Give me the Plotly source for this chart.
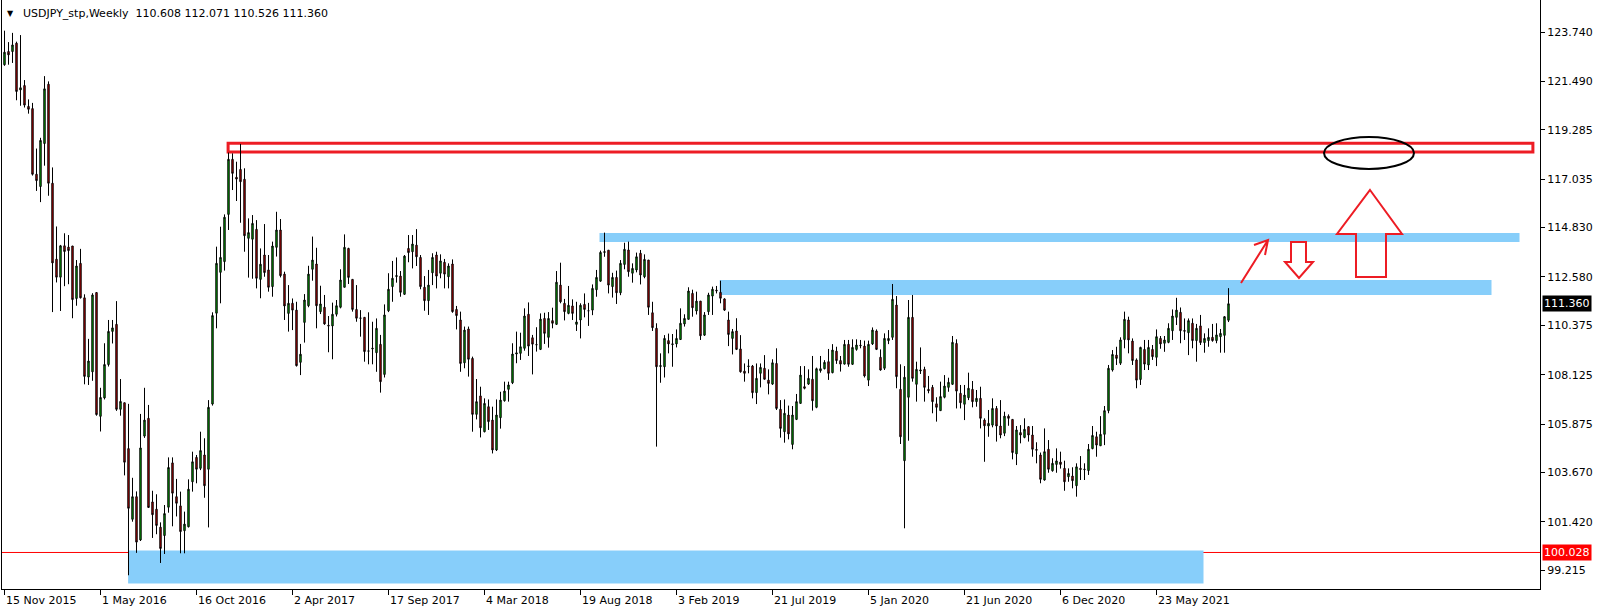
import pandas as pd
import plotly.graph_objects as go

symbol_title = "USDJPY_stp,Weekly"
header_values = ["110.608", "112.071", "110.526", "111.360"]
first_week = "2015-11-15"

opens = [122.25,122.85,122.85,123.23,121.10,121.30,120.35,120.25,117.26,116.70,
118.66,121.36,116.85,113.39,112.57,114.00,113.94,113.99,111.60,113.20,
111.63,108.02,108.26,111.87,106.23,107.07,108.59,110.10,110.42,106.55,
106.85,104.76,101.54,102.57,100.60,105.33,106.14,102.33,102.00,101.18,
100.80,102.09,104.11,102.57,102.15,101.02,101.20,103.25,104.36,103.86,
104.47,103.82,106.79,110.93,112.79,113.28,115.43,117.94,117.12,117.48,
117.03,114.34,114.30,114.75,112.47,113.58,112.90,112.14,113.93,114.72,
112.71,110.92,111.38,111.07,108.69,110.51,111.27,112.93,113.17,111.00,
111.20,110.38,110.35,110.88,111.20,112.11,113.88,112.47,111.10,110.70,
110.74,109.20,109.30,109.13,109.51,108.14,111.04,112.14,112.60,112.62,
111.79,113.88,113.73,114.03,113.47,112.11,111.50,112.77,113.58,112.75,
113.25,112.59,113.17,111.10,110.62,108.67,110.21,108.87,106.32,107.16,
105.53,106.67,106.06,104.70,106.17,106.94,107.46,107.76,109.07,109.10,
109.33,110.88,109.81,109.50,109.28,110.69,109.83,110.59,110.42,112.21,
111.38,110.92,111.26,110.42,110.62,111.33,111.04,111.07,112.00,112.39,
113.70,113.80,112.14,112.56,111.86,113.15,113.81,112.75,112.90,113.66,
112.59,113.35,110.95,110.24,108.50,108.49,109.68,109.50,109.53,109.73,
110.44,110.65,111.83,111.03,111.48,109.93,111.00,111.71,111.98,111.88,
111.58,110.62,109.78,110.12,109.30,108.29,108.50,108.52,107.31,108.19,
108.42,107.88,107.70,108.64,106.55,105.53,106.29,104.95,106.09,106.82,
107.58,107.70,107.92,106.64,108.31,108.40,108.72,108.22,109.20,108.77,
108.61,109.51,108.60,109.28,109.47,109.43,107.88,109.53,110.12,108.92,
108.42,109.68,109.83,111.30,107.46,104.21,107.10,110.74,107.69,108.30,
108.37,107.46,107.55,106.80,106.49,107.10,107.55,107.69,109.55,107.28,
106.78,107.08,107.46,106.90,107.05,106.06,105.79,105.83,106.59,105.79,
105.46,106.24,106.09,104.52,105.49,105.27,105.76,105.38,104.72,104.47,
103.33,104.73,103.75,104.04,104.15,103.86,103.48,103.51,103.07,103.86,
103.80,103.76,104.76,105.30,104.89,105.41,106.49,108.34,109.02,108.65,
109.73,110.62,109.66,108.80,107.91,109.28,108.57,109.28,108.92,109.78,
109.56,109.60,110.13,110.74,110.97,110.14,110.04,110.47,109.68,110.35,
109.59,109.68,109.83,109.68,109.86,109.92,110.608]

highs = [123.80,123.28,123.70,123.30,123.60,121.55,120.67,120.51,118.43,118.92,
121.73,121.49,117.57,114.88,114.04,114.57,114.49,113.99,113.35,113.86,
111.79,109.76,111.84,111.87,107.53,109.56,110.62,110.62,111.48,107.93,
106.85,106.80,103.43,102.81,106.34,107.53,106.75,102.84,102.68,101.40,
102.19,104.36,104.36,103.38,102.80,101.89,103.36,104.62,104.47,105.53,
105.23,106.97,110.97,113.96,114.87,115.43,118.25,118.21,117.83,118.64,
117.53,115.25,115.40,115.17,113.88,114.99,113.58,114.19,115.55,115.22,
112.82,112.21,111.60,111.45,109.53,111.80,113.09,114.42,113.91,112.18,
111.76,110.80,111.41,111.53,112.93,114.52,113.91,112.47,112.21,111.07,
110.74,110.97,110.54,110.69,109.94,111.33,112.75,113.31,113.47,112.85,
113.58,114.49,114.49,114.76,113.58,112.62,112.90,113.66,113.73,113.61,
113.40,113.20,113.38,111.26,111.00,110.32,110.32,108.95,107.93,107.58,
107.05,107.00,106.67,107.00,107.35,107.81,107.81,109.56,110.09,110.04,
111.15,111.42,109.94,110.29,110.92,110.95,110.98,111.18,112.85,113.23,
111.58,112.17,111.56,111.45,111.38,111.83,111.40,112.24,112.90,113.78,
114.60,113.80,112.77,112.87,113.35,114.14,114.19,113.20,113.69,113.81,
113.61,113.35,111.45,110.47,109.10,109.93,110.00,109.98,110.19,111.15,
110.88,112.11,112.00,111.91,111.48,110.98,111.86,112.14,112.17,112.41,
111.61,111.00,110.21,110.70,109.93,108.64,108.83,108.57,108.64,108.64,
109.02,108.37,108.83,109.33,106.97,107.00,106.72,106.70,107.25,108.52,
108.52,108.37,108.98,108.45,108.98,108.79,109.30,109.52,109.40,108.98,
109.71,109.71,109.74,109.74,109.71,109.68,109.68,110.28,110.19,109.28,
110.01,110.16,112.26,111.71,108.60,108.52,111.53,111.76,108.72,109.37,
108.49,108.07,107.66,107.10,107.81,108.11,107.99,109.89,109.74,107.66,
107.66,108.22,107.84,107.43,107.58,106.14,106.52,107.05,106.70,106.97,
106.44,106.32,106.09,105.79,105.83,106.14,105.79,105.79,105.05,104.58,
105.68,105.15,104.32,104.77,104.62,104.21,103.86,103.91,104.09,104.42,
104.09,104.97,105.79,105.53,106.24,106.70,108.57,109.25,109.40,109.83,
111.00,110.77,109.78,108.87,109.40,109.71,109.71,109.48,110.19,109.89,
109.89,110.47,111.10,111.63,111.19,110.69,110.69,110.69,110.44,110.85,
110.01,110.24,110.44,110.47,110.21,110.80,112.071]

lows = [122.20,122.25,122.33,120.63,120.38,120.30,120.02,117.20,116.50,115.99,
117.65,116.28,110.98,112.33,111.03,112.16,112.25,110.70,111.27,111.60,
107.69,107.66,107.85,106.26,105.54,107.00,108.50,109.55,106.48,106.26,
103.54,98.99,101.43,100.01,100.55,105.25,102.06,100.69,100.86,99.55,
99.96,101.84,101.22,101.67,99.99,99.99,101.17,102.80,103.18,103.78,
102.52,101.17,106.72,110.24,111.38,112.87,114.72,116.54,116.04,115.05,
113.73,112.55,112.50,112.06,111.61,112.59,111.91,111.68,113.51,112.56,
110.62,110.09,110.16,108.50,108.11,109.59,111.20,112.41,110.24,110.89,
110.40,109.15,108.83,110.78,111.15,112.11,112.26,111.00,110.54,109.86,
108.72,108.60,108.60,108.26,107.31,108.00,110.98,111.45,112.32,111.68,
111.76,113.25,112.97,113.08,112.02,111.04,110.85,112.21,112.06,112.52,
112.06,112.06,110.95,110.19,108.26,108.42,108.04,105.53,106.09,105.27,
105.50,105.61,104.54,104.65,105.67,106.90,106.90,107.70,108.65,108.80,
109.22,108.98,108.14,109.18,109.25,109.53,109.36,110.24,110.39,111.38,
110.60,110.88,110.62,110.12,109.78,110.74,110.35,110.84,111.68,112.36,
113.50,111.83,111.64,111.35,111.75,112.93,112.59,112.32,112.79,112.24,
112.52,110.85,110.12,104.85,107.76,108.00,109.10,108.49,109.37,109.71,
110.32,110.65,110.77,110.87,109.71,109.89,110.85,110.85,111.83,111.38,
111.03,109.43,109.05,109.25,108.22,107.81,108.19,107.05,106.79,107.55,
107.91,107.23,107.66,106.52,105.26,105.03,105.18,104.73,106.06,106.82,
107.46,107.66,106.49,106.60,108.22,108.37,107.89,108.19,108.62,108.27,
108.59,108.49,108.57,109.22,109.33,108.00,107.61,109.48,109.25,108.31,
108.34,109.52,109.71,107.51,104.97,101.13,105.12,107.81,106.90,108.16,
106.90,107.28,106.37,105.99,106.49,107.05,107.35,107.66,106.59,106.59,
106.06,106.97,106.64,106.67,105.68,104.16,105.30,105.73,105.08,105.23,
105.33,105.80,104.27,104.01,105.00,105.23,105.08,104.39,104.09,103.18,
103.30,103.66,103.71,103.66,103.85,102.84,103.25,102.95,102.57,103.33,
103.33,103.56,104.73,104.39,104.88,104.92,106.37,108.27,108.57,108.57,
109.33,109.10,108.57,107.51,107.66,108.34,108.34,108.80,108.52,109.31,
109.17,109.56,109.71,110.39,109.56,109.71,109.02,109.33,108.72,109.48,
109.13,109.40,109.63,109.56,109.13,109.13,110.526]

closes = [122.82,122.70,123.15,121.03,121.20,120.41,120.22,117.26,116.97,118.80,
121.15,116.85,113.22,112.57,114.00,113.74,113.78,111.55,113.08,111.63,
108.05,108.75,111.76,106.31,107.09,108.59,110.10,110.26,106.55,106.91,
104.14,102.04,102.57,100.50,104.79,106.06,102.08,101.75,101.26,100.21,
101.80,103.90,102.73,102.27,100.98,101.32,102.91,104.16,103.82,104.67,
103.07,106.64,110.82,113.20,113.47,115.30,117.94,117.30,117.04,116.92,
114.46,114.60,115.02,112.52,113.16,112.78,112.11,113.99,114.72,112.64,
111.26,111.38,111.07,108.54,109.06,111.53,112.71,113.35,111.27,111.35,
110.44,110.35,110.88,111.27,112.44,113.93,112.56,111.10,110.70,110.71,
109.18,109.21,109.33,110.24,107.81,110.85,112.02,112.52,112.64,111.88,
113.53,113.69,114.08,113.50,112.14,111.50,112.21,113.47,112.62,113.31,
112.71,113.08,111.00,110.82,108.64,110.16,108.83,106.32,106.90,105.71,
106.82,105.99,104.70,106.29,106.97,107.38,107.66,109.07,109.12,109.40,
110.80,109.43,109.52,109.49,110.66,110.01,110.69,110.47,112.34,111.45,
111.00,111.29,110.92,110.53,111.29,111.10,111.04,112.06,112.56,113.70,
113.73,112.21,112.56,111.86,113.20,113.84,112.82,112.97,113.50,112.67,
113.38,111.20,110.27,108.49,108.54,109.78,109.53,109.53,109.78,110.47,
110.69,111.94,111.18,111.48,109.90,110.85,111.76,112.02,111.95,111.61,
111.07,109.96,110.09,109.28,108.26,108.19,108.52,107.31,107.96,108.46,
107.92,107.73,108.67,106.59,105.68,106.37,105.43,106.29,106.90,108.11,
107.51,107.96,106.94,108.40,108.40,108.69,108.19,109.25,108.77,108.61,
109.51,108.60,109.37,109.48,109.45,108.07,109.51,110.16,109.28,108.34,
109.78,109.78,111.56,108.04,105.30,108.01,110.74,107.96,108.37,108.34,
107.55,107.40,106.90,106.64,107.13,107.61,107.78,109.60,107.38,106.85,
107.20,107.51,106.90,107.05,106.14,105.80,105.91,106.59,105.79,105.38,
106.24,106.14,104.58,105.61,105.38,105.64,105.38,104.73,104.69,103.36,
104.62,103.82,104.09,104.20,104.04,103.25,103.63,103.30,103.93,103.81,
103.82,104.73,105.36,104.92,105.41,106.49,108.42,109.05,108.87,109.71,
110.65,109.71,108.77,107.88,109.37,108.61,109.37,108.95,109.86,109.53,
109.71,110.24,110.80,111.07,110.13,110.11,110.59,109.68,110.24,109.59,
109.78,109.83,109.68,109.94,110.01,110.77,111.36]

price_ticks = [123.740, 121.490, 119.285, 117.035, 114.830, 112.580,
               110.375, 108.125, 105.875, 103.670, 101.420, 99.215]
date_tick_labels = ["15 Nov 2015", "1 May 2016", "16 Oct 2016", "2 Apr 2017",
                    "17 Sep 2017", "4 Mar 2018", "19 Aug 2018", "3 Feb 2019",
                    "21 Jul 2019", "5 Jan 2020", "21 Jun 2020", "6 Dec 2020",
                    "23 May 2021"]
date_tick_step = 24
support_level = 100.028
current_price = 111.360
resistance_box = (118.27, 118.67)
zone_upper = (114.17, 114.58)
zone_mid = (111.76, 112.44)
zone_low = (98.62, 100.12)

weeks = pd.date_range(first_week, periods=len(closes), freq="7D").strftime("%Y-%m-%d").tolist()

# ---- geometry (pixels of the 1604x613 page) ----
W, H = 1604, 613
PL, PR, PT, PB = 2, 1540, 0, 589
FONT = "DejaVu Sans"
RED = "#ed1c24"
BLUE = "#87cefa"
X0 = -0.625                     # half-pixel offset so candle strokes are crisp
X1 = X0 + (PR - PL) / 4.0


def y_at(py):
    return 123.74 - (py - 32) / 21.95


def xp(px):
    return (px - PL) / (PR - PL)


def yp(py):
    return 1 - (py - PT) / (PB - PT)


def path(points, close=True):
    s = "M " + " L ".join(f"{xp(x):.5f},{yp(y):.5f}" for x, y in points)
    return s + (" Z" if close else "")


fig = go.Figure()
fig.add_trace(go.Candlestick(
    x=weeks, open=opens, high=highs, low=lows, close=closes,
    increasing=dict(line=dict(color="black", width=1), fillcolor="#00c800"),
    decreasing=dict(line=dict(color="black", width=1), fillcolor="#e00000"),
    whiskerwidth=0, hoverinfo="x+y", name=symbol_title,
))

shapes = []
shapes.append(dict(type="rect", xref="x", yref="y", x0=30.9, x1=299.75,
                   y0=zone_low[0], y1=zone_low[1], fillcolor=BLUE,
                   line=dict(width=0), layer="below"))
shapes.append(dict(type="line", xref="paper", yref="y", x0=0, x1=1,
                   y0=support_level, y1=support_level,
                   line=dict(color="#ff0000", width=1), layer="below"))
shapes.append(dict(type="rect", xref="x", yref="y", x0=148.75, x1=378.75,
                   y0=zone_upper[0], y1=zone_upper[1], fillcolor=BLUE,
                   line=dict(width=0), layer="below"))
shapes.append(dict(type="rect", xref="x", yref="y", x0=178.8, x1=371.75,
                   y0=zone_mid[0], y1=zone_mid[1], fillcolor=BLUE,
                   line=dict(width=0), layer="below"))
shapes.append(dict(type="rect", xref="x", yref="y", x0=55.9, x1=382.1,
                   y0=resistance_box[0], y1=resistance_box[1],
                   fillcolor="rgba(0,0,0,0)", line=dict(color=RED, width=3),
                   layer="below"))
# ellipse
shapes.append(dict(type="circle", xref="paper", yref="paper",
                   x0=xp(1324), x1=xp(1414), y0=yp(169), y1=yp(137),
                   line=dict(color="black", width=2)))
# big hollow up arrow
shapes.append(dict(type="path", xref="paper", yref="paper",
                   path=path([(1370, 190), (1402, 234), (1386, 234), (1386, 277),
                              (1356, 277), (1356, 234), (1337, 234)]),
                   line=dict(color=RED, width=2)))
# small hollow down arrow
shapes.append(dict(type="path", xref="paper", yref="paper",
                   path=path([(1291, 242), (1306, 242), (1306, 262), (1313, 262),
                              (1299, 278), (1285, 262), (1291, 262)]),
                   line=dict(color=RED, width=2)))
# thin line arrow
shapes.append(dict(type="path", xref="paper", yref="paper",
                   path=path([(1241, 283), (1268, 240)], close=False)
                   + " " + path([(1254, 245), (1268, 240), (1265, 255)], close=False),
                   line=dict(color=RED, width=2)))

annotations = []
for k, lab in enumerate(date_tick_labels):
    annotations.append(dict(x=k * date_tick_step, xref="x", y=0, yref="paper",
                            text=lab, showarrow=False, xanchor="left",
                            yanchor="top", yshift=-3, xshift=-1,
                            font=dict(family=FONT, size=11, color="black")))
annotations.append(dict(x=1, xref="paper", y=current_price, yref="y",
                        text=f"{current_price:.3f}", showarrow=False,
                        xanchor="left", yanchor="middle", xshift=2,
                        bgcolor="black", borderpad=1,
                        font=dict(family=FONT, size=11, color="white")))
annotations.append(dict(x=1, xref="paper", y=support_level, yref="y",
                        text=f"{support_level:.3f}", showarrow=False,
                        xanchor="left", yanchor="middle", xshift=2,
                        bgcolor="#ff0000", borderpad=1,
                        font=dict(family=FONT, size=11, color="white")))
annotations.append(dict(x=0, xref="paper", y=1, yref="paper", text="\u25bc",
                        showarrow=False, xanchor="left", yanchor="middle",
                        xshift=3, yshift=-13,
                        font=dict(family=FONT, size=8, color="black")))
annotations.append(dict(x=0, xref="paper", y=1, yref="paper",
                        text=symbol_title + "\u00a0\u00a0" + " ".join(header_values),
                        showarrow=False, xanchor="left", yanchor="middle",
                        xshift=19, yshift=-13,
                        font=dict(family=FONT, size=11, color="black")))

fig.update_layout(
    width=W, height=H,
    margin=dict(l=PL, r=W - PR, t=PT, b=H - PB, pad=0),
    paper_bgcolor="white", plot_bgcolor="white",
    showlegend=False, boxgap=0.5,
    shapes=shapes, annotations=annotations,
    xaxis=dict(type="category", range=[X0, X1], showgrid=False,
               zeroline=False, showline=True, linecolor="black", linewidth=1,
               ticks="outside", ticklen=5, tickcolor="black",
               tickvals=[weeks[k * date_tick_step] for k in range(len(date_tick_labels))],
               showticklabels=False, rangeslider=dict(visible=False),
               fixedrange=True),
    yaxis=dict(side="right", range=[y_at(PB), y_at(PT)], showgrid=False,
               zeroline=False, showline=True, mirror=True, linecolor="black",
               linewidth=1, ticks="outside", ticklen=4, tickcolor="black",
               tickvals=price_ticks, ticktext=[f"{v:.3f}" for v in price_ticks],
               tickfont=dict(family=FONT, size=11, color="black"),
               fixedrange=True),
)

fig.write_html("out.html", config={"displayModeBar": False},
               post_script="document.body.style.margin='0';")
